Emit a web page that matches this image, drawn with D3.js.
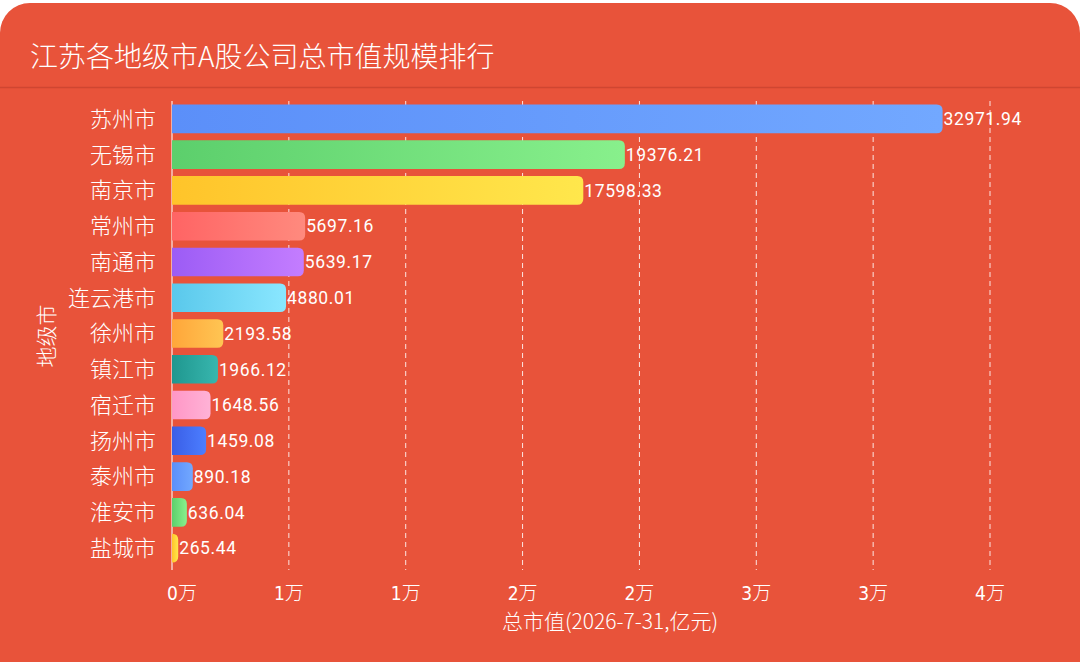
<!DOCTYPE html>
<html>
<head>
<meta charset="utf-8">
<script src="https://cdn.jsdelivr.net/npm/d3@7"></script>
<style>
  html, body { margin: 0; padding: 0; background: #fff; }
  svg { display: block; font-family: "Noto Sans CJK SC", "Noto Sans", sans-serif; }
</style>
</head>
<body>
<div id="vis"></div>
<script>
// data
var cities = ['苏州市', '无锡市', '南京市', '常州市', '南通市', '连云港市', '徐州市',
              '镇江市', '宿迁市', '扬州市', '泰州市', '淮安市', '盐城市'];
var values = [32971.94, 19376.21, 17598.33, 5697.16, 5639.17, 4880.01, 2193.58,
              1966.12, 1648.56, 1459.08, 890.18, 636.04, 265.44];
var xTicks = [0, 5000, 10000, 15000, 20000, 25000, 30000, 35000];

// gradient pairs, left -> right, repeats after ten
var palette = [
  ['#5B8FF9', '#72A8FF'],
  ['#5CCF6C', '#88F08C'],
  ['#FFC42A', '#FFE74C'],
  ['#FF6464', '#FF8A7E'],
  ['#9C5CF5', '#C47DFF'],
  ['#5AC8EB', '#8AE7FF'],
  ['#FFA63A', '#FFC553'],
  ['#1F978F', '#38B6AE'],
  ['#FF97C6', '#FFB2D6'],
  ['#3A5EE6', '#4C7EFF']
];

var W = 1080, H = 662;
var bg = '#E8533A';
var margin = {top: 101, right: 90, bottom: 96, left: 172};

var svg = d3.select('#vis').append('svg')
    .attr('width', W)
    .attr('height', H);

var defs = svg.append('defs');
palette.forEach(function(p, i) {
  var g = defs.append('linearGradient')
      .attr('id', 'grad' + i)
      .attr('x1', '0%').attr('x2', '100%')
      .attr('y1', '0%').attr('y2', '0%');
  g.append('stop').attr('offset', '0%').attr('stop-color', p[0]);
  g.append('stop').attr('offset', '100%').attr('stop-color', p[1]);
});

// card
svg.append('rect')
    .attr('x', 0).attr('y', 3)
    .attr('width', W).attr('height', H + 30)
    .attr('rx', 30)
    .attr('fill', bg);

svg.append('text')
    .attr('x', 30).attr('y', 67)
    .attr('fill', '#fff')
    .attr('font-size', 28)
    .attr('font-weight', 300)
    .text('江苏各地级市A股公司总市值规模排行');

svg.append('line')
    .attr('x1', 0).attr('x2', W)
    .attr('y1', 87.5).attr('y2', 87.5)
    .attr('stroke', '#CF4631')
    .attr('stroke-width', 1.5);

var x = d3.scaleLinear()
    .domain([0, 35000])
    .range([margin.left, W - margin.right]);

var y = d3.scaleBand()
    .domain(cities)
    .range([margin.top, H - margin.bottom])
    .paddingInner(0.2)
    .paddingOuter(0.1);

// grid
svg.append('g')
  .selectAll('line')
  .data(xTicks.slice(1))
  .join('line')
    .attr('x1', function(d) { return x(d); })
    .attr('x2', function(d) { return x(d); })
    .attr('y1', margin.top)
    .attr('y2', H - margin.bottom + 4)
    .attr('stroke', 'rgba(255,255,255,0.85)')
    .attr('stroke-width', 1)
    .attr('stroke-dasharray', '5,4');

// y axis line
svg.append('line')
    .attr('x1', margin.left).attr('x2', margin.left)
    .attr('y1', margin.top).attr('y2', H - margin.bottom + 4)
    .attr('stroke', 'rgba(255,255,255,0.7)')
    .attr('stroke-width', 1.5);

// bars: square on the left, rounded on the right
function barPath(d, i) {
  var x0 = x(0), x1 = x(d), y0 = y(cities[i]), h = y.bandwidth();
  var r = Math.min(6, (x1 - x0), h / 2);
  return 'M' + x0 + ',' + y0 +
    'H' + (x1 - r) +
    'Q' + x1 + ',' + y0 + ' ' + x1 + ',' + (y0 + r) +
    'V' + (y0 + h - r) +
    'Q' + x1 + ',' + (y0 + h) + ' ' + (x1 - r) + ',' + (y0 + h) +
    'H' + x0 + 'Z';
}

svg.append('g')
  .selectAll('path')
  .data(values)
  .join('path')
    .attr('d', barPath)
    .attr('fill', function(d, i) { return 'url(#grad' + (i % palette.length) + ')'; });

// value labels
svg.append('g')
  .selectAll('text')
  .data(values)
  .join('text')
    .attr('x', function(d) { return x(d) + 1; })
    .attr('y', function(d, i) { return y(cities[i]) + y.bandwidth() / 2; })
    .attr('dy', '0.36em')
    .attr('fill', '#fff')
    .attr('font-size', 17.5)
    .attr('letter-spacing', 0.6)
    .attr('font-family', 'Roboto, "Noto Sans", sans-serif')
    .text(function(d) { return d.toFixed(2); });

// category labels
svg.append('g')
  .selectAll('text')
  .data(cities)
  .join('text')
    .attr('x', margin.left - 16)
    .attr('y', function(d) { return y(d) + y.bandwidth() / 2; })
    .attr('dy', '0.36em')
    .attr('text-anchor', 'end')
    .attr('fill', '#fff')
    .attr('font-size', 22)
    .attr('font-weight', 300)
    .text(function(d) { return d; });

// x tick labels
svg.append('g')
  .selectAll('text')
  .data(xTicks)
  .join('text')
    .attr('x', function(d) { return x(d) + (d === 0 ? 10 : 0); })
    .attr('y', 600)
    .attr('text-anchor', 'middle')
    .attr('fill', '#fff')
    .attr('font-size', 19)
    .attr('font-weight', 300)
    .attr('font-family', '"DejaVu Sans Condensed", "Noto Sans CJK SC", sans-serif')
    .text(function(d) { return Math.round(d / 10000) + '万'; });

// axis titles
svg.append('text')
    .attr('x', 610).attr('y', 629)
    .attr('text-anchor', 'middle')
    .attr('fill', '#fff')
    .attr('font-size', 21)
    .attr('font-weight', 300)
    .text('总市值(2026-7-31,亿元)');

svg.append('text')
    .attr('transform', 'translate(54,336) rotate(-90)')
    .attr('text-anchor', 'middle')
    .attr('fill', '#fff')
    .attr('font-size', 21)
    .attr('font-weight', 300)
    .text('地级市');
</script>
</body>
</html>
